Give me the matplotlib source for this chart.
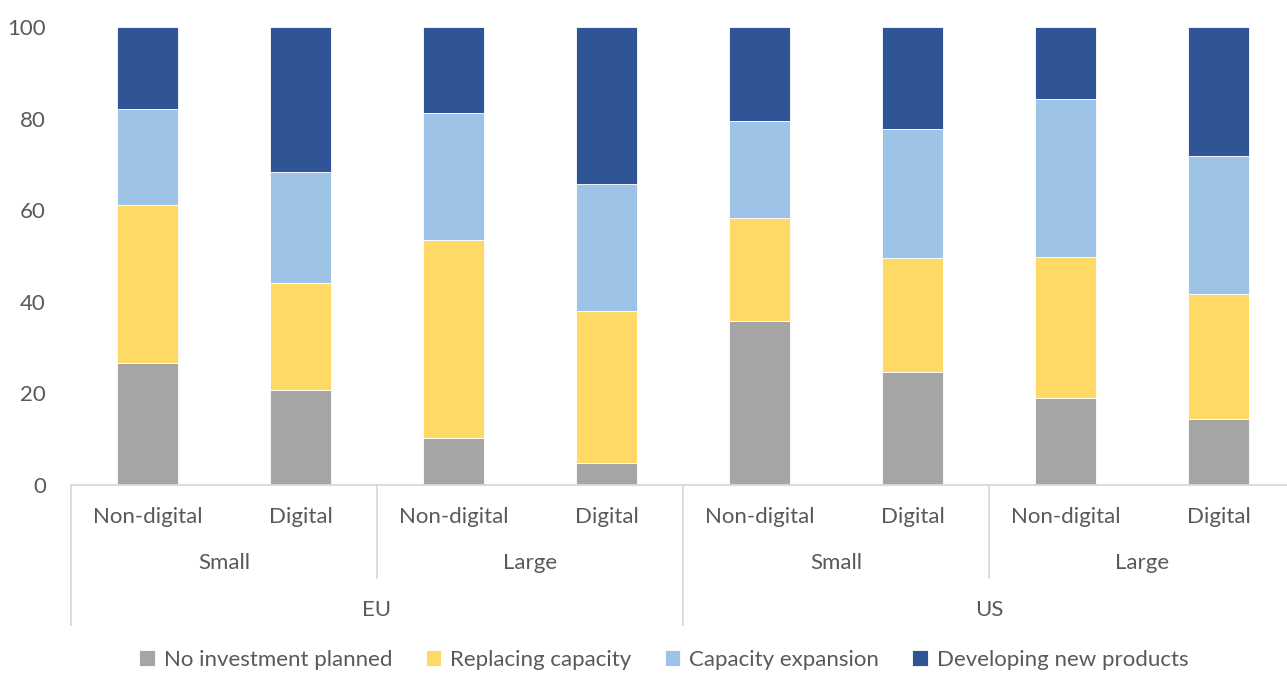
import numpy as np
import matplotlib.pyplot as plt
import matplotlib.transforms as mtransforms

plt.rcParams['font.family'] = ['Lato', 'DejaVu Sans']

# Data
firm_type = ["Non-digital", "Digital", "Non-digital", "Digital",
             "Non-digital", "Digital", "Non-digital", "Digital"]
size_groups = ["Small", "Large", "Small", "Large"]
regions = ["EU", "US"]

no_investment = [26.6, 20.7, 10.2, 4.8, 35.9, 24.6, 19.0, 14.4]
replacing = [34.6, 23.5, 43.4, 33.1, 22.5, 24.9, 30.7, 27.4]
expansion = [20.9, 24.2, 27.7, 27.9, 21.1, 28.3, 34.6, 30.1]
new_products = [17.9, 31.6, 18.7, 34.2, 20.5, 22.2, 15.7, 28.1]

series = [
    ("No investment planned", no_investment, "#A5A5A5"),
    ("Replacing capacity", replacing, "#FFD966"),
    ("Capacity expansion", expansion, "#9DC3E6"),
    ("Developing new products", new_products, "#2F5597"),
]

text_col = "#595959"
line_col = "#D9D9D9"
fs = 16

fig = plt.figure(figsize=(12.87, 6.73), dpi=100)
ax = fig.add_axes([71 / 1287, 1 - 485 / 673, 1224 / 1287, 458 / 673])

x = np.arange(len(firm_type))
bottom = np.zeros(len(x))
for name, vals, col in series:
    ax.bar(x, vals, width=0.4, bottom=bottom, color=col, label=name,
           edgecolor="white", linewidth=0.6)
    bottom += np.array(vals)

ax.set_xlim(-0.5, len(x) - 0.5)
ax.set_ylim(0, 100)
ax.set_yticks(range(0, 101, 20))
ax.tick_params(axis="y", length=0, labelsize=fs, labelcolor=text_col, pad=18)
ax.set_xticks([])
for s in ["top", "right", "left"]:
    ax.spines[s].set_visible(False)
ax.spines["bottom"].set_color(line_col)
ax.spines["bottom"].set_linewidth(1.3)

# multi-level category axis
trans = mtransforms.blended_transform_factory(ax.transData, fig.transFigure)
px = lambda y: 1 - y / 673
for i, lab in enumerate(firm_type):
    ax.text(i, px(517), lab, transform=trans, ha="center", va="center",
            fontsize=fs, color=text_col)
for j, lab in enumerate(size_groups):
    ax.text(2 * j + 0.5, px(563), lab, transform=trans, ha="center", va="center",
            fontsize=fs, color=text_col)
for k, lab in enumerate(regions):
    ax.text(4 * k + 1.5, px(610), lab, transform=trans, ha="center", va="center",
            fontsize=fs, color=text_col)

for j in range(len(size_groups) + 1):
    xb = 2 * j - 0.5
    y_end = 625 if j % 2 == 0 else 578
    ax.plot([xb, xb], [px(485), px(y_end)], transform=trans, color=line_col,
            lw=1.3, clip_on=False)

fig.legend(loc="center", bbox_to_anchor=(664 / 1287, px(660)), ncol=4,
           frameon=False, fontsize=fs, labelcolor=text_col, handlelength=0.7,
           handleheight=0.7, handletextpad=0.4, columnspacing=1.5)

fig.savefig("out.png", dpi=100)
